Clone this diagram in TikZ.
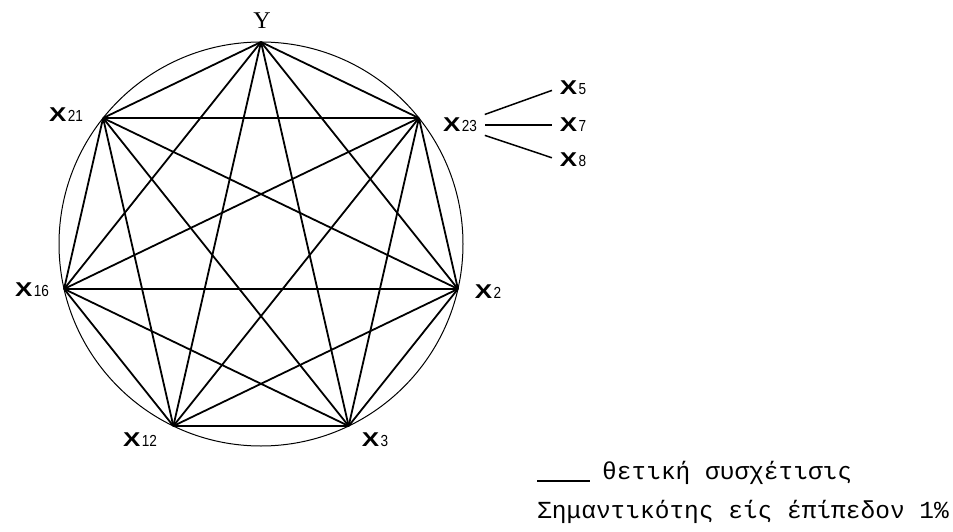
\documentclass[tikz,border=0pt]{standalone}
\usepackage{graphicx}
\usepackage{fontspec}
\setmainfont{Liberation Serif}
\newfontfamily\labfont{Liberation Sans}
\newfontfamily\legfont{Liberation Mono}
\newcommand{\xlab}[1]{\scalebox{1.3}[1]{\fontsize{20}{20}\selectfont\bfseries X}\kern1.5pt\scalebox{0.85}[1]{\fontsize{16}{16}\selectfont #1}}

\begin{document}
\begin{tikzpicture}[x=1pt, y=-1pt,
  lab/.style={inner sep=1pt, font=\labfont},
  edge/.style={line width=1.8pt},
  ring/.style={line width=1pt},
  link/.style={line width=1.5pt, shorten <=7pt, shorten >=7pt},
  leg/.style={anchor=west, inner sep=0pt, font=\legfont\fontsize{24.5}{24.5}\selectfont}
]
\useasboundingbox (0,0) rectangle (953,532);
\coordinate (c) at (261,244);
\draw[ring] (c) circle [radius=202];
% heptagon of variables
\foreach \n [count=\i from 0] in {y,x23,x2,x3,x12,x16,x21}
  \coordinate (\n) at ([shift={(261,244)}] {-90+\i*360/7}:202);
\foreach \a [count=\i] in {y,x23,x2,x3,x12,x16,x21}
  \foreach \b [count=\j] in {y,x23,x2,x3,x12,x16,x21}
    {\ifnum\j>\i \draw[edge] (\a) -- (\b); \fi}

\node[inner sep=0pt, font=\fontsize{24}{24}\selectfont] (ly) at (262,21) {Y};
\node[lab] (l23) at (460,125) {\xlab{23}};
\node[lab] (l2) at (488,292) {\xlab{2}};
\node[lab] (l3) at (375,440) {\xlab{3}};
\node[lab] (l12) at (140,440) {\xlab{12}};
\node[lab] (l16) at (32,290) {\xlab{16}};
\node[lab] (l21) at (66,115) {\xlab{21}};

\node[lab] (l5) at (573,88) {\xlab{5}};
\node[lab] (l7) at (573,125) {\xlab{7}};
\node[lab] (l8) at (573,160) {\xlab{8}};
\draw[link] (l23.north east) -- (l5.west);
\draw[link] (l23.east) -- (l7.west);
\draw[link] (l23.south east) -- (l8.west);

% legend
\coordinate (s1) at (537,481);
\coordinate (s2) at (590,481);
\draw[edge] (s1) -- (s2);
\node[leg] (pos) at (602,473) {θετική συσχέτισις};
\node[leg] (sig) at (537,512) {Σημαντικότης είς έπίπεδον 1\%};
\end{tikzpicture}
\end{document}
